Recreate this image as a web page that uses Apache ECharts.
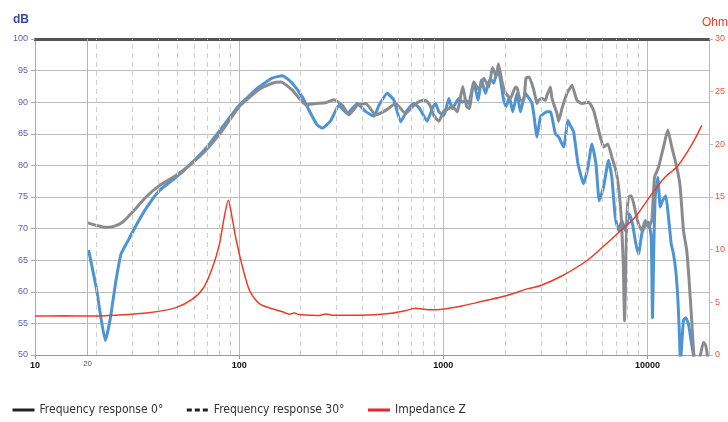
<!DOCTYPE html>
<html>
<head>
<meta charset="utf-8">
<script src="https://cdn.jsdelivr.net/npm/echarts@6/dist/echarts.min.js"></script>
<style>html,body{margin:0;padding:0;background:#fff}#c{width:728px;height:422px}</style>
</head>
<body>
<div id="c"></div>
<script>
// Frequency response 0° (Hz, dB)
const freq0 = [18.1,20,22.3,24.5,26.8,30,35,40.6,49,57,68.7,82.9,100,125,145,160,182,212,237,265,291,320,345,379,417,466,522,584,653,717,773,818,860,898,951,1006,1064,1104,1168,1245,1300,1340,1410,1491,1578,1669,1740,1813,1860,1939,2014,2131,2254,2300,2385,2475,2540,2630,2770,2875,2931,3042,3160,3218,3343,3404,3602,3671,3810,4031,4109,4264,4510,4772,5146,5444,5759,6091,6394,6688,6998,7213,7436,7606,7718,7833,7921,8074,8322,8707,9036,9378,9745,10113,10495,10819,11318,11972,12569,13146,13909,14451,14997,15566,15991,16466,16974,17500,18100,18790,19280,19720];
const spl0 = [70.9,70.5,70.2,70.4,71.0,72.6,75.0,76.8,78.4,80.0,82.4,85.6,89.3,92.0,93.0,93.2,91.9,89.6,89.8,89.9,90.4,89.5,88.0,89.5,89.8,88.0,88.7,89.8,88.2,89.5,90.2,90.3,89.5,87.9,87.0,88.6,89.0,89.4,88.5,92.5,89.3,89.0,93.2,92.0,93.8,92.4,95.5,94.0,96.1,93.2,91.5,90.6,92.4,92.2,90.3,90.3,93.8,94.0,92.0,89.8,90.3,90.6,90.3,91.1,92.4,90.6,88.2,87.0,89.0,91.4,91.9,92.7,90.3,89.8,90.0,88.7,85.6,82.9,83.4,81.3,79.2,76.6,71.8,64.4,55.4,64.4,71.8,75.0,75.2,72.9,70.7,69.7,71.3,70.2,71.3,78.1,79.7,82.9,85.6,82.9,79.7,76.6,69.7,66.5,61.7,55.4,49.0,48.5,49.8,52.0,51.5,49.5];

// Frequency response 30° (Hz, dB)
const freq30 = [18.3,20,21,22.1,23.3,24.9,26.4,29,31,35,40.6,49,57,68.7,82.9,100,125,145,163,182,204,224,240,255,281,308,338,379,417,457,484,531,573,618,665,717,765,833,882,916,951,1006,1064,1104,1147,1190,1236,1290,1332,1410,1480,1537,1608,1682,1732,1766,1833,1868,1904,1976,2028,2107,2187,2296,2385,2523,2669,2718,2770,2875,2988,3101,3218,3343,3537,3671,3884,4076,4188,4346,4562,4864,5106,5341,5587,5804,6091,6445,6688,6950,7213,7486,7780,8138,8446,8765,9036,9378,9745,10113,10426,10578,10734,10906,11230,11536,11838,12288,12668,13058,13400,13753,14067,14289,14501,14997,15392,15866,16356,16974];
const spl30 = [66.6,60.5,56.0,52.3,55.5,61.7,66.0,68.5,70.3,73.2,76.0,78.1,80.0,82.7,86.1,89.5,92.4,93.8,94.2,93.0,90.8,88.2,86.5,85.9,87.1,89.5,88.2,89.8,88.5,87.8,89.5,91.4,90.3,86.9,88.7,89.8,89.0,87.0,89.0,89.8,88.5,87.9,90.6,89.0,89.8,90.6,90.0,90.3,89.8,93.2,90.3,93.5,91.4,93.5,93.4,93.0,94.8,94.8,93.5,90.3,89.3,90.8,88.5,91.4,88.5,91.4,90.3,89.8,88.2,84.5,87.7,88.2,88.5,88.5,85.0,84.5,82.9,87.1,86.3,85.3,80.3,77.1,79.7,83.4,80.3,74.4,76.6,80.8,78.1,71.8,69.7,71.3,69.7,72.3,70.7,67.6,66.0,69.2,70.5,71.0,68.6,55.9,67.0,75.0,78.1,73.4,74.4,75.2,71.8,67.6,66.0,63.3,59.1,54.3,49.0,55.5,55.9,54.9,52.2,49.0];

// Impedance Z (Hz, Ohms)
const freqZ = [10,14,18,25,36,49,59,67,74,80,84,88.5,92,97,104,112,122,130,163,176,186,197,246,266,286,400,540,650,730,850,990,1240,1440,2000,2600,3000,3800,5000,6000,7200,8700,10500,12200,14000,16500,18450];
const impZ = [3.7,3.72,3.7,3.78,4.0,4.5,5.3,6.4,8.3,10.5,12.8,14.7,13.2,10.8,8.3,6.2,5.1,4.7,4.1,3.88,3.98,3.84,3.75,3.9,3.78,3.78,3.93,4.2,4.45,4.3,4.35,4.67,4.95,5.6,6.3,6.6,7.5,8.9,10.2,11.6,13.1,15.3,16.9,17.9,20.0,21.8];

// Grid reference frequencies
const minorFreqs = [20,30,40,50,60,70,80,90,200,300,400,500,600,700,800,900,2000,3000,4000,5000,6000,7000,8000,9000];
const lowLimitFreq = 18.1;
const lowLimitLabel = '20';

const pair = (fs, vs) => fs.map((f, i) => [f, vs[i]]);
const isPow10 = v => Math.abs(Math.log10(v) - Math.round(Math.log10(v))) < 1e-6;

const chart = echarts.init(document.getElementById('c'), null, {renderer: 'canvas'});
const FONT = "'DejaVu Sans Condensed','Roboto',sans-serif";
chart.setOption({
  animation: false,
  backgroundColor: '#fff',
  title: [
    {text: 'dB', left: 8, top: 9, textStyle: {color: '#3b4aa3', fontSize: 12, fontWeight: 'bold', fontFamily: 'Liberation Sans'}},
    {text: 'Ohms', left: 697, top: 12, textStyle: {color: '#ee3b23', fontSize: 12, fontWeight: 'normal', fontFamily: 'Liberation Sans'}}
  ],
  grid: {left: 35, right: 18, top: 39, bottom: 67},
  legend: {
    left: 11, top: 404, padding: 0, itemWidth: 22, itemHeight: 10, itemGap: 22,
    textStyle: {fontSize: 12, color: '#333', fontFamily: FONT},
    data: [
      {name: 'Frequency response 0°', itemStyle: {opacity: 0}, lineStyle: {color: '#222', width: 3, type: 'solid'}},
      {name: 'Frequency response 30°', itemStyle: {opacity: 0}, lineStyle: {color: '#222', width: 3, type: [5, 3]}},
      {name: 'Impedance Z', itemStyle: {opacity: 0}, lineStyle: {color: '#e8242a', width: 3, type: 'solid'}}
    ]
  },
  xAxis: [
    {
      type: 'log', logBase: 10, min: 10, max: 20000,
      axisLine: {show: true, lineStyle: {color: '#999', width: 1}},
      axisTick: {show: true, length: 4, lineStyle: {color: '#999'}},
      axisLabel: {
        color: '#111', fontSize: 9, fontWeight: 'bold', fontFamily: 'Liberation Sans', margin: 6,
        showMaxLabel: false,
        formatter: v => isPow10(v) ? String(Math.round(v)) : ''
      },
      splitLine: {show: true, lineStyle: {color: '#bdbdbd', width: 1}}
    },
    {
      type: 'log', logBase: 10, min: 10, max: 20000, position: 'top',
      axisLine: {show: true, lineStyle: {color: '#555', width: 3}},
      axisTick: {show: false}, axisLabel: {show: false}, splitLine: {show: false}
    }
  ],
  yAxis: [
    {
      type: 'value', min: 50, max: 100, interval: 5, position: 'left',
      axisLine: {show: true, lineStyle: {color: '#aaa', width: 1}},
      axisTick: {show: true, length: 4, lineStyle: {color: '#aaa'}},
      axisLabel: {color: '#5a62b8', fontSize: 9, fontFamily: 'Liberation Sans', margin: 7},
      splitLine: {show: true, lineStyle: {color: '#bdbdbd', width: 1}}
    },
    {
      type: 'value', min: 0, max: 30, interval: 5, position: 'right',
      axisLine: {show: true, lineStyle: {color: '#bbb', width: 1}},
      axisTick: {show: true, length: 4, lineStyle: {color: '#bbb'}},
      axisLabel: {color: '#f0553a', fontSize: 9, fontFamily: 'Liberation Sans', margin: 6},
      splitLine: {show: false}
    }
  ],
  series: [
    {
      name: 'grid-lines', type: 'line', data: [], silent: true, z: 1,
      markLine: {
        silent: true, symbol: 'none', animation: false,
        data: minorFreqs.map(f => ({xAxis: f, label: {show: false}, lineStyle: {color: '#cfcfcf', width: 1, type: [5, 4]}}))
          .concat([{xAxis: lowLimitFreq, label: {show: true, position: 'start', formatter: lowLimitLabel, color: '#555', fontSize: 8, fontFamily: 'Liberation Sans', distance: 5}, lineStyle: {color: '#b5b5b5', width: 1, type: 'solid'}}])
      }
    },
    {
      name: 'Frequency response 30°', type: 'line', xAxisIndex: 0, yAxisIndex: 0,
      data: pair(freq30, spl30), symbol: 'none', smooth: 0.15, z: 3,
      lineStyle: {color: '#4d94d4', width: 3}, itemStyle: {color: '#4d94d4'}
    },
    {
      name: 'Frequency response 0°', type: 'line', xAxisIndex: 0, yAxisIndex: 0,
      data: pair(freq0, spl0), symbol: 'none', smooth: 0.15, z: 4,
      lineStyle: {color: '#8a8b8f', width: 3}, itemStyle: {color: '#8a8b8f'}
    },
    {
      name: 'Impedance Z', type: 'line', xAxisIndex: 0, yAxisIndex: 1,
      data: pair(freqZ, impZ), symbol: 'none', smooth: 0.3, z: 5,
      lineStyle: {color: '#ef3b24', width: 1.5}, itemStyle: {color: '#ef3b24'}
    }
  ]
});
</script>
</body>
</html>
